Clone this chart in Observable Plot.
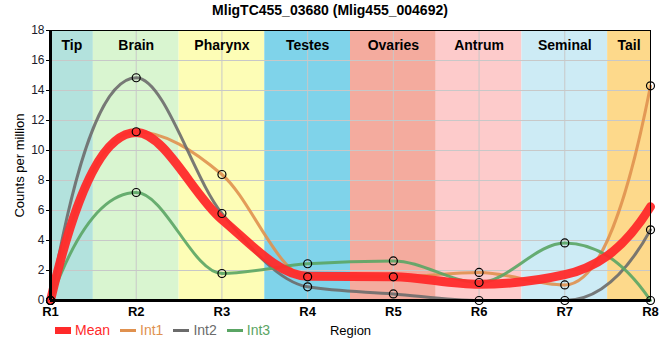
<!DOCTYPE html>
<html>
<head>
<meta charset="utf-8">
<script src="https://cdn.jsdelivr.net/npm/d3@7"></script>
<script src="https://cdn.jsdelivr.net/npm/@observablehq/plot@0.6"></script>
<style>
  body { margin: 0; background: #fff; font-family: Arial, "Liberation Sans", sans-serif; }
  #wrap { position: relative; width: 660px; height: 360px; }
  #title { height: 22px; line-height: 20px; text-align: center; font-weight: bold; font-size: 14px; color: #000; }
  #legend { position: absolute; left: 55px; top: 322px; display: flex; align-items: center; font-size: 14px; }
  .item { display: flex; align-items: center; margin-right: 10px; }
  .sw { display: inline-block; width: 16px; margin-right: 4px; }
</style>
</head>
<body>
<div id="wrap">
  <div id="title">MligTC455_03680 (Mlig455_004692)</div>
  <div id="chart"></div>
  <div id="legend"></div>
</div>
<script>
const regions = [1, 2, 3, 4, 5, 6, 7, 8];
const bandNames = ["Tip", "Brain", "Pharynx", "Testes", "Ovaries", "Antrum", "Seminal", "Tail"];
const bandColors = ["#b3e2dd", "#d9f5d0", "#fdfdb6", "#7fd3ea", "#f4ab9e", "#fdcbcb", "#cdebf5", "#fdd98b"];
const meanVals = [0, 11.2, 5.4, 1.62, 1.58, 1.08, 1.72, 6.25];
const int1 = [0, 11.25, 8.4, 1.58, 1.58, 1.87, 1.04, 14.31];
const int2 = [0, 14.85, 5.8, 0.91, 0.44, 0, 0, 4.71];
const int3 = [0, 7.2, 1.8, 2.45, 2.64, 1.2, 3.84, 0];
const seriesNames = ["Mean", "Int1", "Int2", "Int3"];
const seriesColors = ["#ff2a2a", "#e0914f", "#6b6b6b", "#5aa564"];
const yTicks = [0, 2, 4, 6, 8, 10, 12, 14, 16, 18];

// Smooth curve: monotone interior tangents, steeper end tangents
function endTangent(s, mi) {
  if (s === 0) return 0;
  let v = 2.2 * s - 0.6 * mi;
  if (Math.sign(v) !== Math.sign(s)) return 0;
  if (Math.abs(v) > 3 * Math.abs(s)) v = 3 * s;
  return v;
}
function SmoothCurve(context) { this._context = context; }
SmoothCurve.prototype = {
  areaStart() {}, areaEnd() {},
  lineStart() { this._x = []; this._y = []; },
  point(x, y) { this._x.push(+x); this._y.push(+y); },
  lineEnd() {
    const xs = this._x, ys = this._y, n = xs.length, c = this._context;
    if (!n) return;
    c.moveTo(xs[0], ys[0]);
    if (n === 1) return;
    if (n === 2) { c.lineTo(xs[1], ys[1]); return; }
    const s = [];
    for (let i = 0; i < n - 1; i++) s[i] = (ys[i + 1] - ys[i]) / (xs[i + 1] - xs[i]);
    const m = new Array(n);
    for (let i = 1; i < n - 1; i++) {
      const h0 = xs[i] - xs[i - 1], h1 = xs[i + 1] - xs[i];
      const p = (s[i - 1] * h1 + s[i] * h0) / (h0 + h1);
      m[i] = (Math.sign(s[i - 1]) + Math.sign(s[i])) * Math.min(Math.abs(s[i - 1]), Math.abs(s[i]), 0.5 * Math.abs(p)) || 0;
    }
    m[0] = endTangent(s[0], m[1]);
    m[n - 1] = endTangent(s[n - 2], m[n - 2]);
    for (let i = 0; i < n - 1; i++) {
      const dx = (xs[i + 1] - xs[i]) / 3;
      c.bezierCurveTo(xs[i] + dx, ys[i] + dx * m[i], xs[i + 1] - dx, ys[i + 1] - dx * m[i + 1], xs[i + 1], ys[i + 1]);
    }
  }
};
const smooth = ctx => new SmoothCurve(ctx);

const bands = bandNames.map((name, i) => ({
  name,
  color: bandColors[i],
  x1: Math.max(1, regions[i] - 0.5),
  x2: Math.min(8, regions[i] + 0.5)
}));
const toRows = (vals, s) => vals.map((v, i) => ({x: regions[i], y: v, s}));
const meanRows = toRows(meanVals, "Mean");
const intRows = [toRows(int1, "Int1"), toRows(int2, "Int2"), toRows(int3, "Int3")];

const chart = Plot.plot({
  width: 660,
  height: 338,
  marginLeft: 50,
  marginRight: 10,
  marginTop: 8,
  marginBottom: 60,
  style: {fontFamily: "Arial, 'Liberation Sans', sans-serif", background: "transparent"},
  x: {type: "linear", domain: [1, 8]},
  y: {domain: [0, 18]},
  marks: [
    Plot.rectX(bands, {x1: "x1", x2: "x2", y1: 0, y2: 18, fill: "color"}),
    Plot.gridX(regions, {stroke: "#c8c8c8", strokeOpacity: 1, strokeWidth: 1}),
    Plot.gridY(yTicks, {stroke: "#c8c8c8", strokeOpacity: 1, strokeWidth: 1}),
    Plot.text(bands, {x: d => (d.x1 + d.x2) / 2, text: "name", frameAnchor: "top", dy: 10, fontSize: 14, fontWeight: "bold", fill: "#000"}),
    Plot.axisX(regions, {tickFormat: d => "R" + d, tickSize: 0, tickPadding: 6, fontSize: 13, fontWeight: "bold", fill: "#000", label: "Region", labelArrow: "none", labelAnchor: "center", labelOffset: 34}),
    Plot.axisY(yTicks, {tickSize: 4, tickPadding: 2, fontSize: 12, fill: "#1a1a2a", label: "Counts per million", labelArrow: "none", labelAnchor: "center", labelOffset: 36}),
    ...intRows.map((rows, k) => Plot.line(rows, {x: "x", y: "y", curve: smooth, stroke: seriesColors[k + 1], strokeWidth: 3, strokeOpacity: 0.9})),
    Plot.line(meanRows, {x: "x", y: "y", curve: smooth, stroke: seriesColors[0], strokeWidth: 9, strokeOpacity: 0.95}),
    ...intRows.map(rows => Plot.dot(rows, {x: "x", y: "y", r: 4, stroke: "#000", strokeWidth: 1.2, fill: "none"})),
    Plot.frame({stroke: "#000", strokeWidth: 1}),
    Plot.ruleX([1], {stroke: "#000", strokeWidth: 3}),
    Plot.ruleY([0], {stroke: "#000", strokeWidth: 3})
  ]
});
d3.select(chart).selectAll("[aria-label='x-axis label'], [aria-label='y-axis label']")
  .attr("font-weight", "normal").attr("font-size", 13).attr("fill", "#000");
document.getElementById("chart").appendChild(chart);

const legend = d3.select("#legend");
seriesNames.forEach((name, i) => {
  const it = legend.append("div").attr("class", "item");
  it.append("span").attr("class", "sw")
    .style("height", i === 0 ? "7px" : "3px")
    .style("background", seriesColors[i]);
  it.append("span").text(name).style("color", seriesColors[i]);
});
</script>
</body>
</html>
